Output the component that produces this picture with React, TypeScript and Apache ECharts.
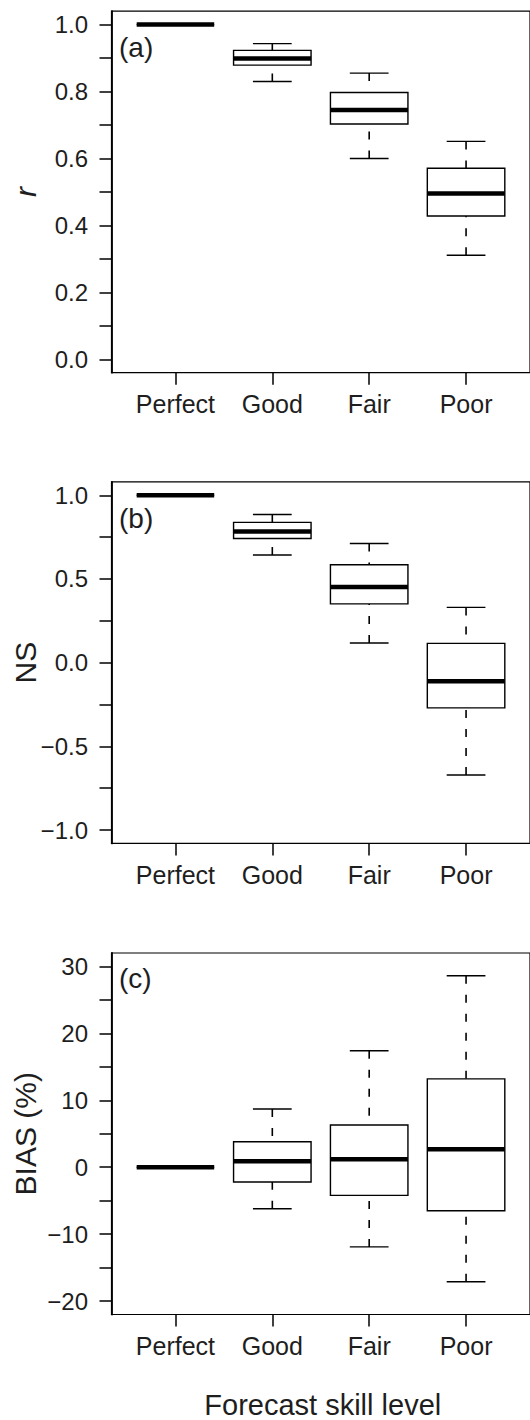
import React, { useEffect, useRef } from "react";
import * as echarts from "echarts";

// Forecast skill categories along the x axis
const categories = ["Perfect", "Good", "Fair", "Poor"];

// Five-number summaries per category: [lower whisker, Q1, median, Q3, upper whisker]
const rStats = [
  [1, 1, 1, 1, 1],
  [0.83, 0.879, 0.899, 0.923, 0.943],
  [0.6, 0.703, 0.745, 0.797, 0.855],
  [0.311, 0.428, 0.495, 0.571, 0.651],
];
const nsStats = [
  [1, 1, 1, 1, 1],
  [0.643, 0.742, 0.784, 0.838, 0.885],
  [0.117, 0.351, 0.452, 0.585, 0.712],
  [-0.671, -0.27, -0.111, 0.115, 0.33],
];
const biasStats = [
  [0, 0, 0, 0, 0],
  [-6.2, -2.2, 0.9, 3.8, 8.7],
  [-11.9, -4.2, 1.2, 6.3, 17.4],
  [-17.1, -6.5, 2.7, 13.2, 28.6],
];

// Axis limits and tick marks
const rLimits = [0, 1];
const rTicks = [0, 0.1, 0.2, 0.3, 0.4, 0.5, 0.6, 0.7, 0.8, 0.9, 1.0];
const rLabels = [0, 0.2, 0.4, 0.6, 0.8, 1.0];

const nsLimits = [-1, 1];
const nsTicks = [-1, -0.75, -0.5, -0.25, 0, 0.25, 0.5, 0.75, 1];
const nsLabels = [-1, -0.5, 0, 0.5, 1];

const biasLimits = [-20, 30];
const biasTicks = [-20, -15, -10, -5, 0, 5, 10, 15, 20, 25, 30];
const biasLabels = [-20, -10, 0, 10, 20, 30];

const xLimits = [1, 4];

const FONT = "'Liberation Sans', Arial, Helvetica, sans-serif";
const MINUS = "\u2212";

const fmtDecimal = (v: number) => (v < -1e-9 ? MINUS : "") + Math.abs(v).toFixed(1);
const fmtInt = (v: number) => (v < -1e-9 ? MINUS : "") + Math.abs(Math.round(v)).toString();

// 4% padding on each side of the data range
const pad = (lim: number[]) => {
  const d = (lim[1] - lim[0]) * 0.04;
  return [lim[0] - d, lim[1] + d];
};

const BOX_WIDTH = 0.8;

function renderBox(_params: any, api: any) {
  const x = api.value(0);
  const lo = api.value(1);
  const q1 = api.value(2);
  const med = api.value(3);
  const q3 = api.value(4);
  const hi = api.value(5);
  const cx = api.coord([x, med])[0];
  const yLo = api.coord([x, lo])[1];
  const yQ1 = api.coord([x, q1])[1];
  const yMed = api.coord([x, med])[1];
  const yQ3 = api.coord([x, q3])[1];
  const yHi = api.coord([x, hi])[1];
  const bw = api.size([BOX_WIDTH, 0])[0];
  const half = bw / 2;
  const capHalf = bw / 4;
  const solid = { stroke: "#000", lineWidth: 1.4, fill: null };
  const dashed = { stroke: "#000", lineWidth: 1.6, fill: null, lineDash: [8, 11] };
  return {
    type: "group",
    children: [
      { type: "line", shape: { x1: cx, y1: yHi, x2: cx, y2: yQ3 }, style: dashed },
      { type: "line", shape: { x1: cx, y1: yLo, x2: cx, y2: yQ1 }, style: dashed },
      { type: "line", shape: { x1: cx - capHalf, y1: yHi, x2: cx + capHalf, y2: yHi }, style: solid },
      { type: "line", shape: { x1: cx - capHalf, y1: yLo, x2: cx + capHalf, y2: yLo }, style: solid },
      {
        type: "rect",
        shape: { x: cx - half, y: yQ3, width: bw, height: yQ1 - yQ3 },
        style: { fill: "#fff", stroke: "#000", lineWidth: 1.4 },
      },
      {
        type: "line",
        shape: { x1: cx - half, y1: yMed, x2: cx + half, y2: yMed },
        style: { stroke: "#000", lineWidth: 4.5, lineCap: "butt" },
      },
    ],
  };
}

const panels = [
  { top: 11.2, tagOffset: 36.2, stats: rStats, limits: rLimits, ticks: rTicks, labels: rLabels, fmt: fmtDecimal, title: "r", italic: true, tag: "(a)" },
  { top: 481.9, tagOffset: 36.2, stats: nsStats, limits: nsLimits, ticks: nsTicks, labels: nsLabels, fmt: fmtDecimal, title: "NS", italic: false, tag: "(b)" },
  { top: 953.0, tagOffset: 25.5, stats: biasStats, limits: biasLimits, ticks: biasTicks, labels: biasLabels, fmt: fmtInt, title: "BIAS (%)", italic: false, tag: "(c)" },
];

const GRID_LEFT = 111.5;
const GRID_WIDTH = 422.5;
const GRID_HEIGHT = 361.5;

export default function App() {
  const ref = useRef<HTMLDivElement>(null);

  useEffect(() => {
    document.body.style.margin = "0";
    if (!ref.current) return;
    const chart = echarts.init(ref.current, undefined, { renderer: "svg" });
    const xr = pad([xLimits[0] - 0.5, xLimits[1] + 0.5]);

    const grids = panels.map((p) => ({
      left: GRID_LEFT,
      top: p.top,
      width: GRID_WIDTH,
      height: GRID_HEIGHT,
      show: true,
      borderColor: "#000",
      borderWidth: 1.2,
      backgroundColor: "transparent",
    }));

    const xAxes = panels.map((_p, i) => ({
      type: "value",
      gridIndex: i,
      position: "bottom",
      min: xr[0],
      max: xr[1],
      axisLine: { show: true, onZero: false, lineStyle: { color: "#000", width: 1.2 } },
      axisTick: {
        show: true,
        customValues: [1, 2, 3, 4],
        length: 12,
        lineStyle: { color: "#000", width: 1.5 },
      },
      axisLabel: {
        customValues: [1, 2, 3, 4],
        formatter: (v: number) => categories[Math.round(v) - 1],
        margin: 19,
        fontSize: 25,
        color: "#1e1e1e",
        fontFamily: FONT,
      },
      splitLine: { show: false },
    }));

    const yAxes = panels.map((p, i) => {
      const yr = pad(p.limits);
      return {
        type: "value",
        gridIndex: i,
        position: "left",
        min: yr[0],
        max: yr[1],
        axisLine: { show: true, onZero: false, lineStyle: { color: "#000", width: 1.8 } },
        axisTick: {
          show: true,
          customValues: p.ticks,
          length: 12,
          lineStyle: { color: "#000", width: 1.5 },
        },
        axisLabel: {
          customValues: p.labels,
          formatter: p.fmt,
          margin: 23.5,
          fontSize: 24,
          color: "#1e1e1e",
          fontFamily: FONT,
        },
        splitLine: { show: false },
      };
    });

    const series = panels.map((p, i) => ({
      type: "custom",
      xAxisIndex: i,
      yAxisIndex: i,
      renderItem: renderBox,
      encode: { x: 0, y: [1, 2, 3, 4, 5] },
      data: p.stats.map((s, k) => [k + 1, ...s]),
      clip: false,
      silent: true,
    }));

    const graphics: any[] = [];
    panels.forEach((p) => {
      const cy = p.top + GRID_HEIGHT / 2;
      graphics.push({
        type: "text",
        x: 25.5,
        y: cy,
        rotation: Math.PI / 2,
        style: {
          text: p.title,
          fill: "#1e1e1e",
          font: `${p.italic ? "italic " : ""}30px ${FONT}`,
          textAlign: "center",
          textVerticalAlign: "middle",
        },
      });
      graphics.push({
        type: "text",
        x: 119,
        y: p.top + p.tagOffset,
        style: {
          text: p.tag,
          fill: "#1e1e1e",
          font: `28px ${FONT}`,
          textAlign: "left",
          textVerticalAlign: "middle",
        },
      });
    });
    graphics.push({
      type: "text",
      x: GRID_LEFT + GRID_WIDTH / 2,
      y: 1404.5,
      style: {
        text: "Forecast skill level",
        fill: "#1e1e1e",
        font: `29px ${FONT}`,
        textAlign: "center",
        textVerticalAlign: "middle",
      },
    });

    chart.setOption({
      animation: false,
      backgroundColor: "#fff",
      textStyle: { fontFamily: FONT },
      grid: grids,
      xAxis: xAxes,
      yAxis: yAxes,
      series,
      graphic: graphics,
    });

    return () => chart.dispose();
  }, []);

  return <div ref={ref} style={{ width: 530, height: 1420 }} />;
}
